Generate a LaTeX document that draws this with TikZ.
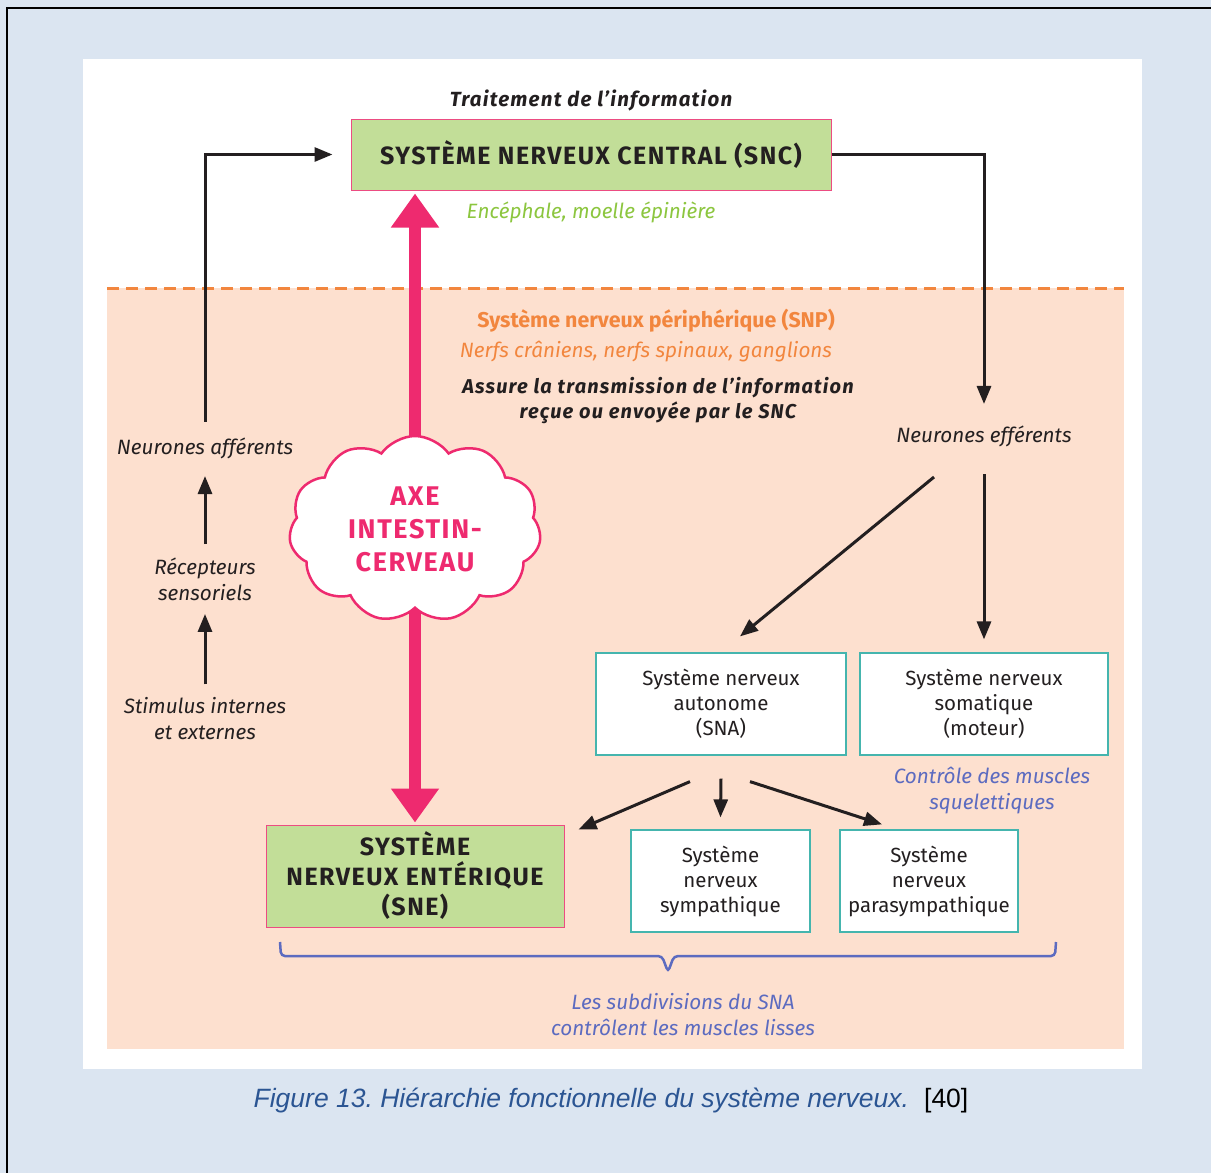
\documentclass[tikz,border=0pt]{standalone}
\usepackage{fontspec}
\setmainfont{Fira Sans}
\newfontfamily\widefont[LetterSpace=6]{Fira Sans}
\newfontfamily\capfont{Liberation Sans}
\usetikzlibrary{arrows.meta,shapes.symbols,calc,positioning}

\definecolor{bgblue}{HTML}{DBE5F1}
\definecolor{peach}{HTML}{FDE0CF}
\definecolor{snegreen}{HTML}{C2DE98}
\definecolor{boxpink}{HTML}{EC4C82}
\definecolor{axepink}{HTML}{EE2A6F}
\definecolor{snporange}{HTML}{F2863E}
\definecolor{sncgreen}{HTML}{8CC63F}
\definecolor{boxteal}{HTML}{45B5AE}
\definecolor{musclue}{HTML}{5C6BC0}
\definecolor{capblue}{HTML}{2B5593}
\definecolor{arrblack}{HTML}{231F20}

\tikzset{
  greenbox/.style={draw=boxpink, fill=snegreen, line width=1pt, align=center,
    inner sep=0pt, text=arrblack},
  whitebox/.style={draw=boxteal, fill=white, line width=1.2pt, align=center,
    inner sep=0pt, text=arrblack, font=\fontsize{20.5}{25}\selectfont},
  note/.style={align=center, text=arrblack, font=\fontsize{20.7}{26}\selectfont\itshape},
  arr/.style={-{Triangle[width=14pt,length=18pt]}, line width=3pt, draw=arrblack},
  pinkarr/.style={{Triangle[width=46pt,length=34pt]}-{Triangle[width=46pt,length=34pt]},
    line width=12pt, draw=axepink},
}

\begin{document}
\begin{tikzpicture}[x=1pt,y=-1pt]
\useasboundingbox (0,0) rectangle (1211,1173);
% background, frame, panels
\fill[bgblue] (0,0) rectangle (1211,1173);
\draw[line width=2.5pt] (7,1173) -- (7,8) -- (1211,8);
\fill[white] (83,59) rectangle (1142,1069);
\fill[peach] (107,288) rectangle (1124,1049);
\draw[snporange, line width=3pt, dash pattern=on 12pt off 7pt] (107,288) -- (1124,288);

% central nervous system
\node[greenbox, minimum width=480pt, minimum height=71pt,
  font=\widefont\fontsize{25}{28}\selectfont\bfseries] (snc) at (591,154.5)
  {SYSTÈME NERVEUX CENTRAL (SNC)};
\node[font=\widefont\fontsize{20.5}{24}\selectfont\bfseries\itshape, text=arrblack] (trait) at (591,100)
  {Traitement de l’information};
\node[note, text=sncgreen] (ence) at (591,212) {Encéphale, moelle épinière};

% peripheral nervous system
\node[font=\fontsize{21.4}{24}\selectfont\bfseries, text=snporange] (snp) at (656,321)
  {Système nerveux périphérique (SNP)};
\node[note, text=snporange] (nerfs) at (646,352) {Nerfs crâniens, nerfs spinaux, ganglions};
\node[note, font=\widefont\fontsize{20}{25}\selectfont\bfseries\itshape] (assure) at (658,401)
  {Assure la transmission de l’information\\reçue ou envoyée par le SNC};

% afferent side
\node[note] (aff) at (205,448) {Neurones afférents};
\node[note] (rec) at (205,579) {Récepteurs\\sensoriels};
\node[note] (stim) at (205,719) {Stimulus internes\\et externes};

% efferent side
\node[note] (eff) at (984,436) {Neurones efférents};
\node[whitebox, minimum width=250pt, minimum height=102pt] (sna) at (721,704)
  {Système nerveux\\autonome\\(SNA)};
\node[whitebox, minimum width=248pt, minimum height=102pt] (som) at (984,704)
  {Système nerveux\\somatique\\(moteur)};
\node[note, text=musclue] (contr) at (992,791) {Contrôle des muscles\\squelettiques};
\node[greenbox, minimum width=298pt, minimum height=102pt,
  font=\widefont\fontsize{25}{30}\selectfont\bfseries] (sne) at (415,876)
  {SYSTÈME\\NERVEUX ENTÉRIQUE\\(SNE)};
\node[whitebox, minimum width=179pt, minimum height=102pt] (sym) at (720.5,881)
  {Système\\nerveux\\sympathique};
\node[whitebox, minimum width=178pt, minimum height=102pt] (para) at (929,881)
  {Système\\nerveux\\parasympathique};
\node[note, text=musclue] (subdiv) at (683,1015)
  {Les subdivisions du SNA\\contrôlent les muscles lisses};

% connectors
\draw[arr, shorten <=12pt, shorten >=18pt] (aff.north) |- (snc.west);
\draw[arr, shorten >=18pt] (snc.east) -| (eff.north);
\draw[arr, shorten <=10pt, shorten >=14pt] (rec.north) -- (aff.south);
\draw[arr, shorten <=10pt, shorten >=10pt] (stim.north) -- (rec.south);
\draw[arr] ($(eff.south)+(-50,27)$) -- ($(sna.north)+(19,-16)$);
\draw[arr, shorten <=24pt, shorten >=13pt] (eff.south) -- (som.north);
\draw[arr] ($(sna.south)+(-31,26)$) -- ($(sne.north east)+(14,5)$);
\draw[arr] ($(sna.south)+(0,23)$) -- ($(sym.north)+(0,-12)$);
\draw[arr] ($(sna.south)+(29,26)$) -- ($(para.north)+(-47,-5)$);

% gut-brain axis
\draw[pinkarr, shorten <=3pt, shorten >=2pt] (sne.north |- snc.south) -- (sne.north);
\node[cloud, cloud puffs=11, cloud puff arc=110, aspect=1.35, draw=axepink, line width=2.5pt,
  fill=white, minimum width=252pt, minimum height=186pt, inner sep=0pt, align=center,
  text=axepink, font=\widefont\fontsize{27}{33}\selectfont\bfseries] (axe) at (415,529)
  {AXE\\INTESTIN-\\CERVEAU};

% brace under the SNA subdivisions
\coordinate (braceL) at (280,942);
\coordinate (braceR) at (1056,942);
\coordinate (braceTip) at (668,972);
\draw[musclue, line width=2.5pt, rounded corners=4pt]
  (braceL) -- ($(braceL)+(1,14)$) -- ($(braceTip)+(-6,-16)$) -- (braceTip)
  -- ($(braceTip)+(6,-16)$) -- ($(braceR)+(-1,14)$) -- (braceR);

% caption
\node[font=\capfont\fontsize{26.5}{30}\selectfont] (caption) at (611,1100)
  {\frenchspacing\textcolor{capblue}{\itshape Figure 13. Hiérarchie fonctionnelle du système nerveux.}\hspace{15pt}[40]};
\end{tikzpicture}
\end{document}
